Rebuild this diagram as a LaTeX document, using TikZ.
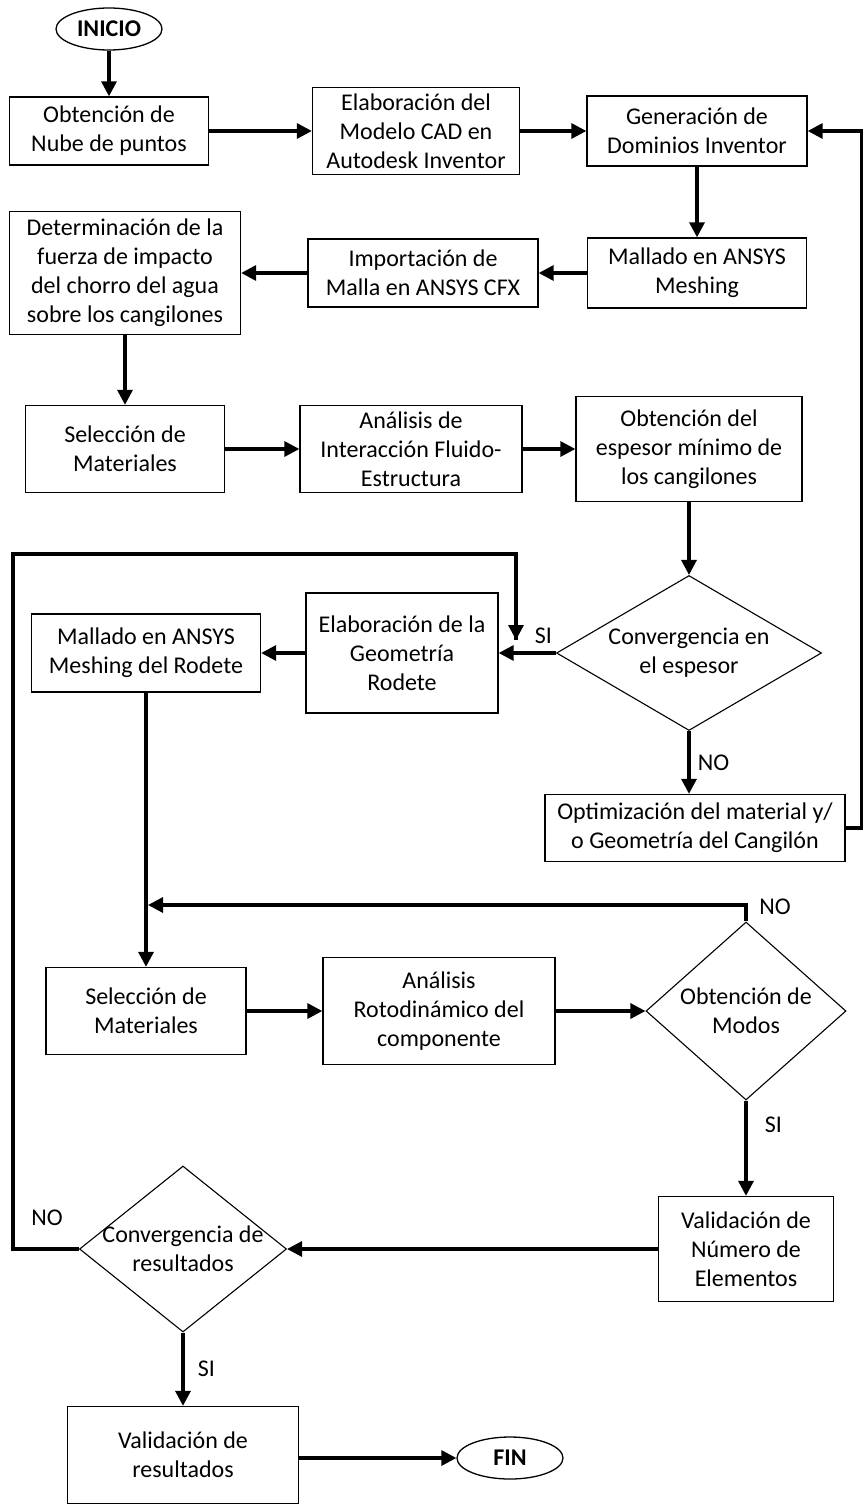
\documentclass[tikz,border=0pt]{standalone}
\usepackage{fontspec}
\setmainfont{Carlito}
\usepackage{tikz}
\usetikzlibrary{shapes.geometric, arrows.meta, positioning, calc}

\begin{document}
\begin{tikzpicture}[
    x=1pt, y=-1pt,
    box/.style={draw, line width=1.3pt, inner sep=0pt, align=center, font=\fontsize{24}{29}\selectfont},
    term/.style={draw, ellipse, line width=1.3pt, inner sep=0pt, minimum width=106pt, minimum height=42pt, font=\fontsize{24}{29}\selectfont\bfseries},
    dia/.style={draw, diamond, line width=1.1pt, inner sep=0pt},
    diatext/.style={align=center, font=\fontsize{24}{29}\selectfont},
    arr/.style={-{Triangle[length=15pt, width=15pt]}, line width=3.2pt},
    lin/.style={line width=3.2pt},
    lbl/.style={font=\fontsize{24}{29}\selectfont},
]
\useasboundingbox (0,0) rectangle (863,1504);

% Start and first row
\node[term] (inicio) at (109,29) {INICIO};
\node[box, minimum width=199pt, minimum height=68pt] (nube) at (109,131) {Obtención de\\Nube de puntos};
\node[box, minimum width=207pt, minimum height=87pt] (cad) at (416,131) {Elaboración del\\Modelo CAD en\\Autodesk Inventor};
\node[box, minimum width=220pt, minimum height=70pt] (dominios) at (697,131) {Generación de\\Dominios Inventor};

% Second row (right to left)
\node[box, minimum width=219pt, minimum height=70pt] (mallado) at (697,273) {Mallado en ANSYS\\Meshing};
\node[box, minimum width=230pt, minimum height=68pt] (importa) at (423,273) {Importación de\\Malla en ANSYS CFX};
\node[box, minimum width=231pt, minimum height=123pt] (fuerza) at (125,273) {Determinación de la\\fuerza de impacto\\del chorro del agua\\sobre los cangilones};

% Third row
\node[box, minimum width=199pt, minimum height=87pt] (materiales) at (125,449) {Selección de\\Materiales};
\node[box, minimum width=222pt, minimum height=87pt] (fsi) at (411,449) {Análisis de\\Interacción Fluido-\\Estructura};
\node[box, minimum width=226pt, minimum height=105pt] (espesor) at (689,449) {Obtención del\\espesor mínimo de\\los cangilones};

% Thickness check
\node[dia, minimum width=265pt, minimum height=155pt, label={[diatext]center:Convergencia en\\el espesor}] (convesp) at (689,653) {};
\node[box, minimum width=300pt, minimum height=67pt] (optim) at (695,828) {Optimización del material y/\\o Geometría del Cangilón};
\node[box, minimum width=192pt, minimum height=120pt] (geometria) at (402,653) {Elaboración de la\\Geometría\\Rodete};
\node[box, minimum width=229pt, minimum height=78pt] (mallarod) at (146,653) {Mallado en ANSYS\\Meshing del Rodete};

% Rotor dynamics
\node[box, minimum width=200pt, minimum height=87pt] (materiales2) at (146,1011) {Selección de\\Materiales};
\node[box, minimum width=232pt, minimum height=107pt] (rotodin) at (439,1011) {Análisis\\Rotodinámico del\\componente};
\node[dia, minimum width=200pt, minimum height=178pt, label={[diatext]center:Obtención de\\Modos}] (modos) at (746,1011) {};
\node[box, minimum width=175pt, minimum height=105pt] (elementos) at (746,1249) {Validación de\\Número de\\Elementos};
\node[dia, minimum width=207pt, minimum height=166pt, label={[diatext]center:Convergencia de\\resultados}] (convres) at (183,1249) {};

% End
\node[box, minimum width=231pt, minimum height=97pt] (validacion) at (183,1455) {Validación de\\resultados};
\node[term] (fin) at (510,1458) {FIN};

% Helper points
\coordinate (retorno) at (516,640);
\coordinate (union) at (148,905);

% Arrows - first rows
\draw[arr] (inicio) -- (nube);
\draw[arr] (nube) -- (cad);
\draw[arr] (cad) -- (dominios);
\draw[arr] (dominios) -- (mallado);
\draw[arr] (mallado) -- (importa);
\draw[arr] (importa) -- (fuerza);
\draw[arr] (fuerza) -- (materiales);
\draw[arr] (materiales) -- (fsi);
\draw[arr] (fsi) -- (espesor);
\draw[arr] (espesor) -- (convesp);

% Arrows - thickness decision
\draw[arr] (convesp.south) -- (optim.north -| convesp.south) node[lbl, midway, right=4pt] {NO};
\draw[arr] (optim.east) -- ++(16,0) |- (dominios.east);
\draw[arr] (convesp.west) -- (geometria.east) node[lbl, pos=0.22, above=4pt] {SI};
\draw[arr] (geometria) -- (mallarod);
\draw[arr] (mallarod) -- (materiales2);

% Arrows - modes and results
\draw[arr] (materiales2) -- (rotodin);
\draw[arr] (rotodin) -- (modos);
\draw[arr] (modos.north) |- (union);
\node[lbl] (nomodos) at (775,907) {NO};
\draw[arr] (modos.south) -- (elementos.north) node[lbl, pos=0.25, right=14pt] {SI};
\draw[arr] (elementos) -- (convres);
\draw[lin] (convres.west) -- (13,1249) -- (13,554) -| (retorno);
\draw[arr] (516,600) -- (retorno);
\node[lbl] (nores) at (47,1218) {NO};
\draw[arr] (convres.south) -- (validacion.north -| convres.south) node[lbl, midway, right=10pt] {SI};
\draw[arr] (validacion.east |- fin.west) -- (fin.west);

\end{tikzpicture}
\end{document}
